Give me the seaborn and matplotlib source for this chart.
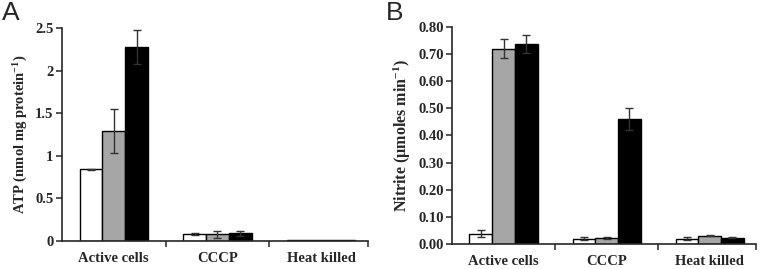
import matplotlib
matplotlib.use("Agg")
import matplotlib.pyplot as plt
import seaborn as sns
import pandas as pd
import numpy as np

categories = ["Active cells", "CCCP", "Heat killed"]
conditions = ["c1", "c2", "c3"]

atp_c1 = [0.84, 0.08, 0.015]
atp_c2 = [1.29, 0.08, 0.015]
atp_c3 = [2.28, 0.09, 0.015]
atp_err_c1 = [0.01, 0.01, 0.0]
atp_err_c2 = [0.26, 0.04, 0.0]
atp_err_c3 = [0.20, 0.03, 0.0]

nit_c1 = [0.038, 0.020, 0.020]
nit_c2 = [0.720, 0.023, 0.030]
nit_c3 = [0.737, 0.460, 0.023]
nit_err_c1 = [0.012, 0.004, 0.004]
nit_err_c2 = [0.035, 0.004, 0.002]
nit_err_c3 = [0.033, 0.040, 0.002]

colors = ["#ffffff", "#a6a6a6", "#000000"]

sns.set_style("ticks")
plt.rcParams["font.family"] = ["Liberation Serif", "DejaVu Serif"]
plt.rcParams["font.weight"] = "bold"
plt.rcParams["mathtext.fontset"] = "custom"
plt.rcParams["mathtext.rm"] = "Liberation Serif:bold"
plt.rcParams["mathtext.bf"] = "Liberation Serif:bold"
plt.rcParams["mathtext.it"] = "Liberation Serif:bold"

fig = plt.figure(figsize=(7.68, 2.69), dpi=100)
axA = fig.add_axes([0.0807, 0.104, 0.398, 0.792])
axB = fig.add_axes([0.5885, 0.093, 0.396, 0.807])


def make_df(v1, v2, v3, e1, e2, e3):
    rows = []
    for vals, errs, cond in [(v1, e1, "c1"), (v2, e2, "c2"), (v3, e3, "c3")]:
        for cat, v, e in zip(categories, vals, errs):
            rows.append({"cat": cat, "cond": cond, "val": v, "err": e})
    return pd.DataFrame(rows)


def draw(ax, df, ylim, yticks, yfmt, ylabel, ylabsize):
    sns.barplot(data=df, x="cat", y="val", hue="cond", order=categories,
                hue_order=conditions, palette=colors, edgecolor="black",
                linewidth=1.0, errorbar=None, width=0.66, saturation=1,
                legend=False, ax=ax)
    patches = [p for p in ax.patches if p.get_width() > 0]
    for i, cond in enumerate(conditions):
        sub = df[df["cond"] == cond].set_index("cat").loc[categories]
        for j, cat in enumerate(categories):
            p = patches[i * len(categories) + j]
            xc = p.get_x() + p.get_width() / 2
            e = sub.loc[cat, "err"]
            if e > 0:
                ax.errorbar(xc, sub.loc[cat, "val"], yerr=e, fmt="none",
                            ecolor="#333333", elinewidth=1.0, capsize=3,
                            capthick=1.0, zorder=5)
    ax.set_xlim(-0.5, 2.45)
    ax.set_ylim(*ylim)
    ax.set_yticks(yticks)
    ax.set_yticklabels([yfmt.format(t) for t in yticks], fontsize=10.5,
                       fontweight="bold")
    ax.set_xticks(range(3))
    ax.set_xticklabels(categories, fontsize=10.5, fontweight="bold")
    ax.tick_params(axis="x", which="major", length=0, pad=8)
    ax.set_xticks([0.5, 1.5, 2.45], minor=True)
    ax.tick_params(axis="x", which="minor", length=4, width=1.1, direction="out")
    ax.tick_params(axis="y", length=4, width=1.1, direction="out", pad=2)
    ax.set_xlabel("")
    ax.set_ylabel(ylabel, fontsize=ylabsize, fontweight="bold", labelpad=4)
    sns.despine(ax=ax)
    for s in ["left", "bottom"]:
        ax.spines[s].set_linewidth(1.2)


dfA = make_df(atp_c1, atp_c2, atp_c3, atp_err_c1, atp_err_c2, atp_err_c3)
dfB = make_df(nit_c1, nit_c2, nit_c3, nit_err_c1, nit_err_c2, nit_err_c3)

draw(axA, dfA, (0, 2.5), [0, 0.5, 1, 1.5, 2, 2.5], "{:g}",
     r"ATP (nmol mg protein$^{-1}$)", 10.5)
draw(axB, dfB, (0, 0.8), [0, 0.1, 0.2, 0.3, 0.4, 0.5, 0.6, 0.7, 0.8], "{:.2f}",
     r"Nitrite (µmoles min$^{-1}$)", 11.5)

fig.text(0.003, 0.995, "A", fontsize=19, family="Liberation Sans",
         fontweight="normal", va="top", ha="left")
fig.text(0.502, 0.995, "B", fontsize=19, family="Liberation Sans",
         fontweight="normal", va="top", ha="left")

fig.savefig("out.png", dpi=100)
